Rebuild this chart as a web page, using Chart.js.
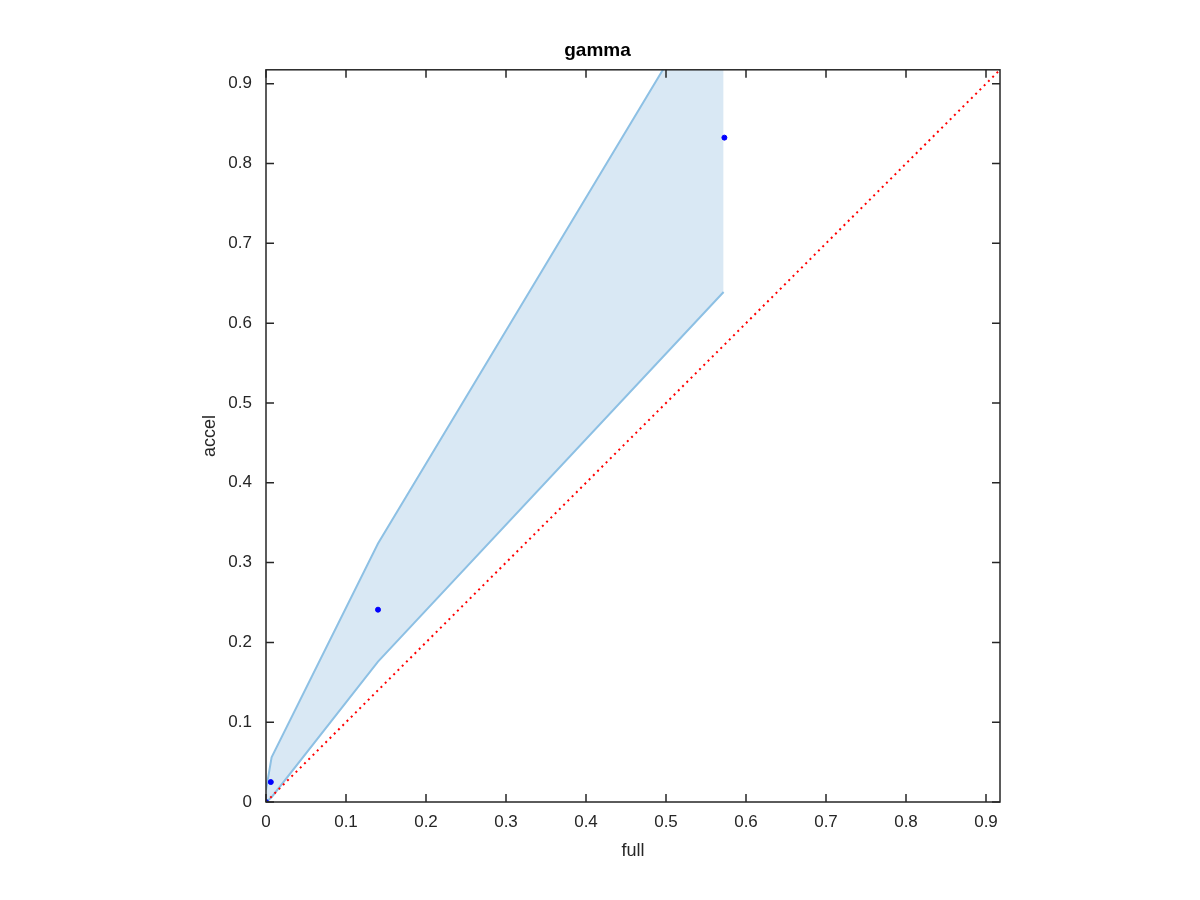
<!DOCTYPE html>
<html>
<head>
<meta charset="utf-8">
<script src="https://cdn.jsdelivr.net/npm/chart.js@4"></script>
<style>
  html, body { margin: 0; padding: 0; background: #fff; }
  #wrap { width: 1200px; height: 900px; }
</style>
</head>
<body>
<div id="wrap"><canvas id="myChart" width="1200" height="900"></canvas></div>
<script>
// data
const fullVals  = [0, 0.006, 0.14, 0.573];
const accelVals = [0, 0.025, 0.241, 0.8325];
const bandX     = [0, 0.007, 0.14, 0.572];
const bandUpper = [0.015, 0.056, 0.324, 1.044];
const bandLower = [0, 0.006, 0.176, 0.639];
const diagX     = [0, 0.9175];
const tickVals  = [0, 0.1, 0.2, 0.3, 0.4, 0.5, 0.6, 0.7, 0.8, 0.9];
const axisMax   = 0.9175;

const pts = (xs, ys) => xs.map((x, i) => ({x: x, y: ys[i]}));
const FONT = "'Liberation Sans', Arial, Helvetica, sans-serif";

// matlab style box with inward ticks
const boxPlugin = {
  id: 'box',
  afterDraw(chart) {
    const {ctx, chartArea: a, scales} = chart;
    const len = 8;
    ctx.save();
    ctx.strokeStyle = '#262626';
    ctx.lineWidth = 1.5;
    ctx.strokeRect(a.left, a.top, a.right - a.left, a.bottom - a.top);
    ctx.beginPath();
    tickVals.forEach(v => {
      const px = scales.x.getPixelForValue(v);
      ctx.moveTo(px, a.bottom); ctx.lineTo(px, a.bottom - len);
      ctx.moveTo(px, a.top); ctx.lineTo(px, a.top + len);
      const py = scales.y.getPixelForValue(v);
      ctx.moveTo(a.left, py); ctx.lineTo(a.left + len, py);
      ctx.moveTo(a.right, py); ctx.lineTo(a.right - len, py);
    });
    ctx.stroke();
    ctx.restore();
  }
};

const fmt = v => (Math.round(v * 10) / 10).toString();

let myChart = new Chart(document.getElementById('myChart').getContext('2d'), {
  type: 'scatter',
  data: {
    datasets: [
      {
        label: 'upper',
        data: pts(bandX, bandUpper),
        showLine: true,
        borderColor: '#8dc0e4',
        borderWidth: 2,
        backgroundColor: '#d9e8f4',
        pointRadius: 0,
        fill: '+1',
        order: 4
      },
      {
        label: 'lower',
        data: pts(bandX, bandLower),
        showLine: true,
        borderColor: '#8dc0e4',
        borderWidth: 2,
        pointRadius: 0,
        fill: false,
        order: 3
      },
      {
        label: 'y = x',
        data: pts(diagX, diagX),
        showLine: true,
        borderColor: '#ff0000',
        borderWidth: 2,
        borderDash: [2, 4],
        pointRadius: 0,
        fill: false,
        order: 2
      },
      {
        label: 'points',
        data: pts(fullVals, accelVals),
        showLine: false,
        backgroundColor: '#0000ff',
        borderColor: '#0000ff',
        pointRadius: 2.5,
        order: 1
      }
    ]
  },
  options: {
    responsive: false,
    animation: false,
    layout: { padding: { left: 195, right: 200, top: 0, bottom: 0 } },
    plugins: {
      legend: { display: false },
      tooltip: { enabled: false },
      title: {
        display: true,
        text: 'gamma',
        color: '#000',
        font: { family: FONT, size: 19, weight: 'bold' },
        padding: { top: 39, bottom: 8 }
      }
    },
    scales: {
      x: {
        type: 'linear',
        min: 0,
        max: axisMax,
        afterFit: s => { s.height = 98; },
        grid: { display: false, drawTicks: false },
        border: { display: false },
        ticks: {
          stepSize: 0.1,
          includeBounds: false,
          maxRotation: 0,
          padding: 10,
          color: '#262626',
          font: { family: FONT, size: 17 },
          callback: fmt
        },
        title: {
          display: true,
          text: 'full',
          color: '#262626',
          font: { family: FONT, size: 18 },
          padding: { top: 0, bottom: 38 }
        }
      },
      y: {
        type: 'linear',
        min: 0,
        max: axisMax,
        afterFit: s => { s.width = 71; },
        grid: { display: false, drawTicks: false },
        border: { display: false },
        ticks: {
          stepSize: 0.1,
          includeBounds: false,
          padding: 14,
          color: '#262626',
          font: { family: FONT, size: 17 },
          callback: fmt
        },
        title: {
          display: true,
          text: 'accel',
          color: '#262626',
          font: { family: FONT, size: 18 },
          padding: { top: 4, bottom: 0 }
        }
      }
    }
  },
  plugins: [boxPlugin]
});
</script>
</body>
</html>
